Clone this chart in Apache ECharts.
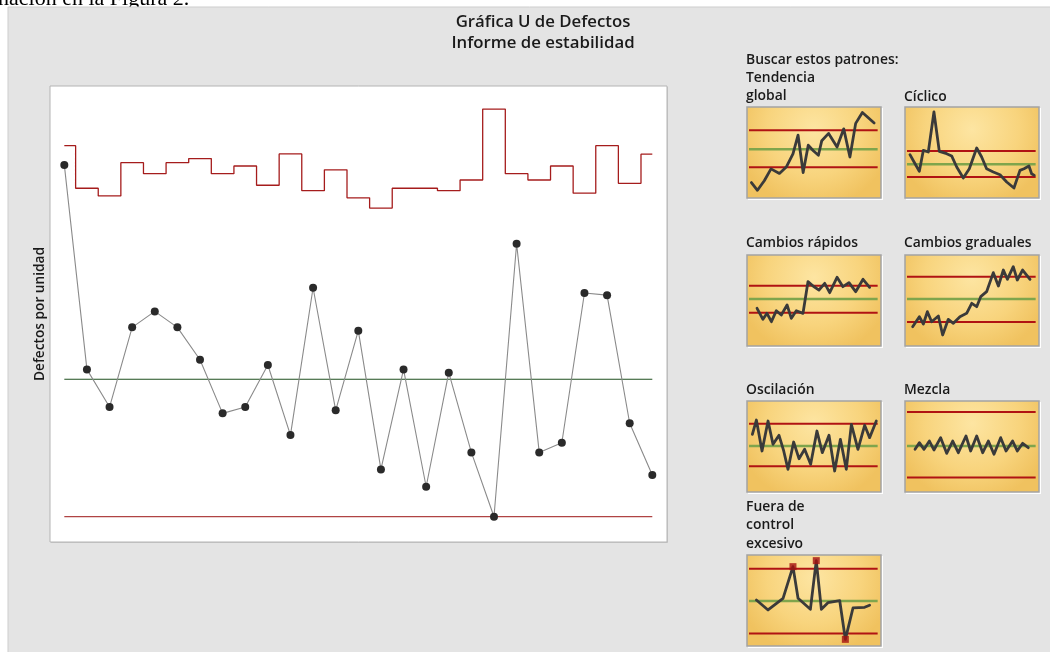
<!DOCTYPE html>
<html><head><meta charset="utf-8">
<script src="https://cdn.jsdelivr.net/npm/echarts@6/dist/echarts.min.js"></script>
<style>html,body{margin:0;padding:0;background:#fff}#c{width:1050px;height:652px}</style>
</head><body><div id="c"></div>
<script>
// ---- Main U chart data ----
const samples = [1,2,3,4,5,6,7,8,9,10,11,12,13,14,15,16,17,18,19,20,21,22,23,24,25,26,27];
const defectsPerUnit = [1.28,0.536,0.399,0.689,0.747,0.689,0.571,0.376,0.399,0.552,0.297,0.833,0.387,0.677,0.172,0.536,0.109,0.524,0.234,0,0.993,0.234,0.269,0.814,0.806,0.340,0.152];
const uclValues = [1.350,1.195,1.167,1.288,1.248,1.288,1.303,1.248,1.276,1.206,1.320,1.186,1.262,1.160,1.123,1.195,1.195,1.186,1.225,1.483,1.248,1.225,1.276,1.177,1.350,1.213,1.319];
const centerLine = 0.5;
const lowerLimit = 0;

// ---- Pattern thumbnails (x 0-100, y 0-100) ----
const tendenciaGlobal = [[3.3,17],[7.8,8.5],[12.9,19],[17.9,32],[24.2,27],[29.3,34],[34.3,48.5],[38.1,69],[41.9,28],[45.7,58],[49.5,52],[53.3,47],[55.8,63],[60.9,71],[67.2,56],[72.2,76],[76.8,45],[81.1,82],[86.1,94],[89.9,89],[94.9,82.5]];
const tendenciaLimits = [74.4,53.7,33.7];
const ciclico = [[3.7,47.6],[7.5,37.7],[10.7,29.3],[13.7,52.4],[17.4,50.5],[21.6,94.5],[25.6,51.3],[31.1,48.7],[34.8,46.2],[38.6,34.1],[43.5,22],[48,32.2],[53.5,55],[57.2,45.1],[60.9,32.2],[65.9,28.6],[70.9,25.6],[75.9,17.6],[81.3,11],[85.8,30.4],[88.8,32.2],[92.5,35.2],[94.5,26.7],[96.5,24.9]];
const ciclicoLimits = [51.6,37,23];
const cambiosRapidos = [[7.5,41.4],[11.9,29.3],[14.9,35.9],[18.2,26.7],[21.9,38.8],[25.6,34.1],[29.9,45.1],[33.1,30.4],[36.8,38.8],[41.8,35.9],[45.5,70.7],[49.3,65.9],[53.7,61.5],[58,68.9],[61.7,58.6],[67.2,75.5],[71.6,65.2],[76.1,69.6],[81.1,59.7],[86.6,73.3],[91.5,64.5]];
const rapidosLimits = [66.3,51.6,36.6];
const cambiosGraduales = [[5.7,21.2],[10.7,32.2],[13.7,24.2],[16.7,37.7],[19.9,26.7],[24.9,33],[28.1,12.1],[32.3,29.3],[36.1,24.9],[41,32.2],[46,35.9],[49.8,46.9],[53.5,43.2],[56.5,54.2],[60.9,59.7],[65.9,80.6],[69.7,65.9],[73.4,83.5],[76.4,73.3],[80.8,87.2],[83.8,72.5],[87.8,83.5],[93.3,73.3]];
const gradualesLimits = [76.2,51.6,26.4];
const oscilacion = [[4,63.4],[7,79.1],[11.2,45.1],[15.7,78],[19.4,52.4],[23.9,62.3],[27.4,45.1],[30.6,24.9],[34.8,54.9],[38.8,36.6],[43,46.9],[47.5,30.4],[52.2,67],[56.2,43.2],[61.2,62.3],[65.4,23.1],[69.7,57.9],[74.1,24.9],[77.9,74.4],[82.8,46.9],[87.8,73.3],[91.5,59.7],[96.5,78]];
const oscilacionLimits = [75.1,50.5,28.2];
const mezcla = [[7.5,46.9],[10.7,54.2],[14.2,46.9],[18.2,56],[21.6,46.2],[26.6,59.7],[31.1,42.5],[35.6,56],[39.8,43.2],[45.5,61.5],[49,45.1],[53.5,61.5],[58,43.2],[62.2,56],[66.4,41.4],[71.4,59.7],[75.4,45.1],[80.3,56],[83.8,45.1],[87.8,53.5],[92,48.7]];
const mezclaLimits = [87.9,50.5,15.8];
const fueraControl = [[7,50.5],[15.7,39.6],[26.9,52.4],[34.3,87.2],[38.1,52.4],[47.3,40.3],[51.7,93.8],[55.5,40.3],[60.4,47.6],[69.2,49.8],[73.4,7.3],[79.1,41.8],[87.8,42.5],[91.5,44.7]];
const fueraPuntos = [[34.3,87.2],[51.7,93.8],[73.4,7.3]];
const fueraLimits = [85,49.5,13.6];

const FONT = "'Open Sans','Noto Sans',sans-serif";
const chart = echarts.init(document.getElementById('c'), null, {renderer:'canvas'});

const grids = [], xAxes = [], yAxes = [], series = [], graphics = [];

// clipped document text above the panel
graphics.push({type:'text', x:-2, y:10, style:{text:'nación en la Figura 2.', font:"22px 'Liberation Serif','DejaVu Serif',serif", fill:'#000', textVerticalAlign:'bottom'}});
// background panel
graphics.push({type:'rect', shape:{x:8,y:7,width:1050,height:660}, style:{fill:'#e4e4e4', stroke:'#cdcdcd', lineWidth:1}});
// main plot box
const PL=50, PT=86, PW=617, PH=456;
graphics.push({type:'rect', shape:{x:PL+1,y:PT+1,width:PW,height:PH}, style:{fill:'#c8c8c8'}});
graphics.push({type:'rect', shape:{x:PL,y:PT,width:PW,height:PH}, style:{fill:'#ffffff', stroke:'#b4b4b4', lineWidth:1}});

grids.push({left:PL, top:PT, width:PW, height:PH, show:false});
xAxes.push({type:'value', gridIndex:0, min:0.367, max:27.65, show:false});
yAxes.push({type:'value', gridIndex:0, min:-0.092, max:1.567, show:false});

series.push({type:'line', xAxisIndex:0, yAxisIndex:0, step:'middle', symbol:'none', silent:true,
  data: samples.map((s,i)=>[s, uclValues[i]]), lineStyle:{color:'#a51c1c', width:1.3}, z:2});
series.push({type:'line', xAxisIndex:0, yAxisIndex:0, symbol:'none', silent:true,
  data: [[samples[0],centerLine],[samples[samples.length-1],centerLine]], lineStyle:{color:'#1f4f1f', width:1.1}, z:2});
series.push({type:'line', xAxisIndex:0, yAxisIndex:0, symbol:'none', silent:true,
  data: [[samples[0],lowerLimit],[samples[samples.length-1],lowerLimit]], lineStyle:{color:'#b04444', width:1.3}, z:2});
series.push({type:'line', xAxisIndex:0, yAxisIndex:0, symbol:'circle', symbolSize:8, silent:true,
  data: samples.map((s,i)=>[s, defectsPerUnit[i]]), lineStyle:{color:'#8a8a8a', width:1.1},
  itemStyle:{color:'#2a2a2a'}, z:3});

// titles
graphics.push({type:'text', x:543, y:22, style:{text:'Gráfica U de Defectos', font:'600 16.8px '+FONT, fill:'#1a1a1a', textAlign:'center', textVerticalAlign:'middle'}});
graphics.push({type:'text', x:543, y:43, style:{text:'Informe de estabilidad', font:'600 16.8px '+FONT, fill:'#1a1a1a', textAlign:'center', textVerticalAlign:'middle'}});
graphics.push({type:'text', x:40, y:314, rotation:Math.PI/2, style:{text:'Defectos por unidad', font:'600 13.7px '+FONT, fill:'#1a1a1a', textAlign:'center', textVerticalAlign:'middle'}});

// right side labels
const labels = [
  ['Buscar estos patrones:',746,60],['Tendencia',746,78],['global',746,96],['Cíclico',904,97],
  ['Cambios rápidos',746,243],['Cambios graduales',904,243],
  ['Oscilación',746,390],['Mezcla',904,390],
  ['Fuera de',746,507],['control',746,525],['excesivo',746,544]
];
labels.forEach(l=>graphics.push({type:'text', x:l[1], y:l[2], style:{text:l[0], font:'600 13.9px '+FONT, fill:'#1a1a1a', textAlign:'left', textVerticalAlign:'middle'}}));

// thumbnails
const TW=134, TH=91;
const thumbs = [
  {left:747, top:107, data:tendenciaGlobal, lim:tendenciaLimits},
  {left:905, top:107, data:ciclico, lim:ciclicoLimits},
  {left:747, top:255, data:cambiosRapidos, lim:rapidosLimits},
  {left:905, top:255, data:cambiosGraduales, lim:gradualesLimits},
  {left:747, top:401, data:oscilacion, lim:oscilacionLimits},
  {left:905, top:401, data:mezcla, lim:mezclaLimits},
  {left:747, top:555, data:fueraControl, lim:fueraLimits, pts:fueraPuntos}
];
thumbs.forEach((t,k)=>{
  const gi = k+1;
  graphics.push({type:'rect', shape:{x:t.left+1,y:t.top+1,width:TW+1,height:TH+1}, style:{fill:'#ffffff'}});
  graphics.push({type:'rect', shape:{x:t.left,y:t.top,width:TW,height:TH},
    style:{fill:new echarts.graphic.RadialGradient(0.5,0.25,0.85,[{offset:0,color:'#fde5a2'},{offset:0.6,color:'#f8d47d'},{offset:1,color:'#f0c25f'}]), stroke:'#a3a3a3', lineWidth:1.5}});
  grids.push({left:t.left, top:t.top, width:TW, height:TH, show:false});
  xAxes.push({type:'value', gridIndex:gi, min:0, max:100, show:false});
  yAxes.push({type:'value', gridIndex:gi, min:0, max:100, show:false});
  const cols = ['#b01313','#7fa54c','#b01313'];
  t.lim.forEach((v,j)=>series.push({type:'line', xAxisIndex:gi, yAxisIndex:gi, symbol:'none', silent:true,
    data:[[1.5,v],[97.5,v]], lineStyle:{color:cols[j], width:j===1?2.5:2}, z:2}));
  series.push({type:'line', xAxisIndex:gi, yAxisIndex:gi, symbol:'none', silent:true, data:t.data,
    lineStyle:{color:'#3a3a3a', width:2.8, join:'round', cap:'round'}, z:3});
  if (t.pts) series.push({type:'scatter', xAxisIndex:gi, yAxisIndex:gi, symbol:'rect', symbolSize:7, silent:true,
    data:t.pts, itemStyle:{color:'#a51010'}, z:4});
});

chart.setOption({
  animation:false,
  backgroundColor:'#ffffff',
  textStyle:{fontFamily:FONT},
  grid:grids, xAxis:xAxes, yAxis:yAxes, series:series,
  graphic:{elements:graphics}
});
</script></body></html>
